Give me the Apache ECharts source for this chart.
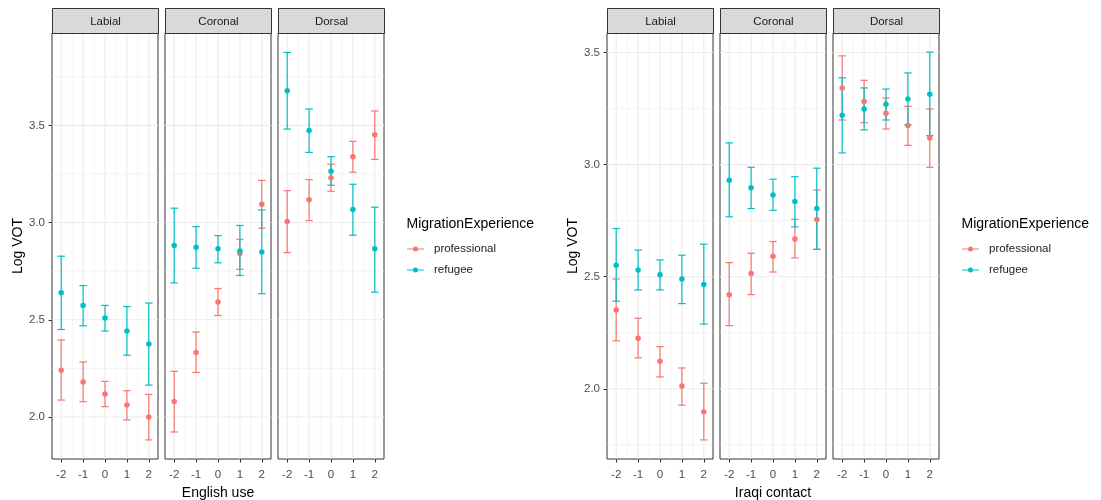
<!DOCTYPE html>
<html>
<head>
<meta charset="utf-8">
<script src="https://cdn.jsdelivr.net/npm/echarts@6/dist/echarts.min.js"></script>
<style>
  html, body { margin: 0; padding: 0; background: #ffffff; }
  #chart { width: 1101px; height: 500px; }
</style>
</head>
<body>
<div id="chart"></div>
<script>
// Facet labels, predictor levels and groups
const places = ['Labial', 'Coronal', 'Dorsal'];
const levels = [-2, -1, 0, 1, 2];
const groups = ['professional', 'refugee'];
const xTitles = ['English use', 'Iraqi contact'];
const legendTitle = 'MigrationExperience';
const yTitle = 'Log VOT';

// Axis ticks
const xMinorTicks = [-1.5, -0.5, 0.5, 1.5];
const yMajorTicks = [2.0, 2.5, 3.0, 3.5];
const yMinorTicksEnglish = [2.25, 2.75, 3.25, 3.75];
const yMinorTicksIraqi = [1.75, 2.25, 2.75, 3.25];

// Estimated Log VOT: [estimate, lower, upper] for levels -2..2
// English use
const engLabialProfessional = [[2.241, 2.087, 2.396], [2.180, 2.079, 2.283], [2.118, 2.053, 2.183], [2.062, 1.985, 2.135], [2.000, 1.882, 2.116]];
const engLabialRefugee      = [[2.639, 2.450, 2.827], [2.574, 2.469, 2.676], [2.509, 2.442, 2.574], [2.442, 2.318, 2.568], [2.375, 2.164, 2.586]];
const engCoronalProfessional = [[2.080, 1.923, 2.235], [2.332, 2.229, 2.437], [2.591, 2.522, 2.661], [2.841, 2.760, 2.914], [3.094, 2.971, 3.217]];
const engCoronalRefugee      = [[2.882, 2.690, 3.074], [2.873, 2.765, 2.979], [2.865, 2.793, 2.933], [2.854, 2.728, 2.985], [2.849, 2.634, 3.065]];
const engDorsalProfessional = [[3.005, 2.846, 3.164], [3.118, 3.010, 3.221], [3.231, 3.161, 3.300], [3.339, 3.259, 3.418], [3.452, 3.325, 3.574]];
const engDorsalRefugee      = [[3.678, 3.481, 3.875], [3.474, 3.361, 3.584], [3.264, 3.192, 3.339], [3.067, 2.935, 3.197], [2.865, 2.642, 3.079]];
// Iraqi contact
const iraLabialProfessional = [[2.352, 2.214, 2.490], [2.226, 2.138, 2.315], [2.123, 2.053, 2.188], [2.013, 1.927, 2.093], [1.898, 1.772, 2.025]];
const iraLabialRefugee      = [[2.551, 2.391, 2.715], [2.530, 2.441, 2.619], [2.509, 2.441, 2.575], [2.490, 2.380, 2.596], [2.465, 2.289, 2.645]];
const iraCoronalProfessional = [[2.420, 2.282, 2.563], [2.514, 2.420, 2.605], [2.591, 2.521, 2.657], [2.668, 2.584, 2.756], [2.755, 2.622, 2.886]];
const iraCoronalRefugee      = [[2.930, 2.767, 3.097], [2.897, 2.804, 2.988], [2.865, 2.796, 2.935], [2.836, 2.722, 2.946], [2.804, 2.622, 2.984]];
const iraDorsalProfessional = [[3.342, 3.199, 3.485], [3.281, 3.187, 3.376], [3.229, 3.159, 3.297], [3.174, 3.086, 3.260], [3.119, 2.988, 3.248]];
const iraDorsalRefugee      = [[3.220, 3.052, 3.387], [3.248, 3.155, 3.342], [3.269, 3.199, 3.337], [3.293, 3.177, 3.409], [3.314, 3.129, 3.502]];

const plotData = [
  [[engLabialProfessional, engLabialRefugee], [engCoronalProfessional, engCoronalRefugee], [engDorsalProfessional, engDorsalRefugee]],
  [[iraLabialProfessional, iraLabialRefugee], [iraCoronalProfessional, iraCoronalRefugee], [iraDorsalProfessional, iraDorsalRefugee]]
];

// Layout and style
const FONT = '"Liberation Sans", Arial, sans-serif';
const COLORS = ['#F8766D', '#00BFC4'];
const PANEL_W = 106, PANEL_TOP = 33, PANEL_H = 426;
const STRIP_TOP = 8, STRIP_H = 25;
const panelLefts = [[52, 165, 278], [607, 720, 833]];
const yRanges = [[1.784, 3.975], [1.687, 3.587]];
const xRange = [-2.42, 2.42];
const yMinorSets = [yMinorTicksEnglish, yMinorTicksIraqi];
const legendLefts = [407, 962];
const CAP_HALF = 0.17;

const grids = [], xAxes = [], yAxes = [], series = [], graphics = [], titles = [], legends = [];

function gridLineSeries(gi, plot) {
  // background reference lines: [value, isHorizontal, isMinor]
  const data = [];
  yMinorSets[plot].forEach(v => data.push([v, 1, 1]));
  yMajorTicks.forEach(v => data.push([v, 1, 0]));
  xMinorTicks.forEach(v => data.push([v, 0, 1]));
  levels.forEach(v => data.push([v, 0, 0]));
  return {
    type: 'custom', xAxisIndex: gi, yAxisIndex: gi, silent: true, z: 1,
    clip: true, animation: false,
    data: data,
    renderItem: function (params, api) {
      const cs = params.coordSys;
      const v = api.value(0), horiz = api.value(1), minor = api.value(2);
      const style = { stroke: '#EBEBEB', lineWidth: minor ? 0.55 : 1.1 };
      if (horiz) {
        const y = api.coord([0, v])[1];
        if (y < cs.y || y > cs.y + cs.height) return null;
        return { type: 'line', shape: { x1: cs.x, y1: y, x2: cs.x + cs.width, y2: y }, style: style };
      }
      const x = api.coord([v, yRanges[plot][0]])[0];
      return { type: 'line', shape: { x1: x, y1: cs.y, x2: x, y2: cs.y + cs.height }, style: style };
    }
  };
}

function errorBarSeries(gi, rows, color) {
  return {
    type: 'custom', xAxisIndex: gi, yAxisIndex: gi, z: 3, silent: true,
    animation: false,
    itemStyle: { color: color },
    data: rows.map((r, i) => [levels[i], r[1], r[2]]),
    encode: { x: 0, y: [1, 2] },
    renderItem: function (params, api) {
      const x = api.value(0), lo = api.value(1), hi = api.value(2);
      const top = api.coord([x, hi]);
      const bot = api.coord([x, lo]);
      const l = api.coord([x - CAP_HALF, hi])[0];
      const r = api.coord([x + CAP_HALF, hi])[0];
      const style = { stroke: color, lineWidth: 1.2 };
      return {
        type: 'group',
        children: [
          { type: 'line', shape: { x1: top[0], y1: top[1], x2: bot[0], y2: bot[1] }, style: style },
          { type: 'line', shape: { x1: l, y1: top[1], x2: r, y2: top[1] }, style: style },
          { type: 'line', shape: { x1: l, y1: bot[1], x2: r, y2: bot[1] }, style: style }
        ]
      };
    }
  };
}

for (let p = 0; p < 2; p++) {
  for (let f = 0; f < 3; f++) {
    const gi = p * 3 + f;
    const left = panelLefts[p][f];
    grids.push({
      left: left, top: PANEL_TOP, width: PANEL_W, height: PANEL_H,
      outerBoundsMode: 'none', containLabel: false,
      show: true, backgroundColor: '#ffffff', borderColor: '#333333', borderWidth: 1
    });
    xAxes.push({
      gridIndex: gi, type: 'value', min: xRange[0], max: xRange[1],
      axisLine: { show: false, onZero: false },
      axisTick: { show: true, length: 3.5, lineStyle: { color: '#333333', width: 1 }, customValues: levels },
      axisLabel: { customValues: levels, color: '#4D4D4D', fontSize: 11.5, fontFamily: FONT, margin: 10 },
      splitLine: { show: false },
      name: f === 1 ? xTitles[p] : '',
      nameLocation: 'middle', nameGap: 27,
      nameTextStyle: { color: '#000000', fontSize: 14, fontFamily: FONT }
    });
    yAxes.push({
      gridIndex: gi, type: 'value', min: yRanges[p][0], max: yRanges[p][1],
      axisLine: { show: false, onZero: false },
      axisTick: { show: f === 0, length: 3.5, lineStyle: { color: '#333333', width: 1 }, customValues: yMajorTicks },
      axisLabel: {
        show: f === 0, customValues: yMajorTicks, color: '#4D4D4D', fontSize: 11.5, fontFamily: FONT, margin: 7,
        formatter: v => Number(v).toFixed(1)
      },
      splitLine: { show: false },
      name: f === 0 ? yTitle : '',
      nameLocation: 'middle', nameRotate: 90, nameGap: 27,
      nameTextStyle: { color: '#000000', fontSize: 14, fontFamily: FONT }
    });

    series.push(gridLineSeries(gi, p));
    for (let g = 0; g < 2; g++) {
      series.push(errorBarSeries(gi, plotData[p][f][g], COLORS[g]));
    }
    for (let g = 0; g < 2; g++) {
      const rows = plotData[p][f][g];
      series.push({
        type: 'scatter', name: groups[g], xAxisIndex: gi, yAxisIndex: gi, z: 4,
        symbol: 'circle', symbolSize: 5.5, animation: false,
        itemStyle: { color: COLORS[g], opacity: 1 },
        emphasis: { disabled: true },
        data: rows.map((r, i) => [levels[i], r[0]])
      });
    }

    // facet strip
    graphics.push({
      type: 'rect', silent: true, z: 10,
      shape: { x: left + 0.5, y: STRIP_TOP + 0.5, width: PANEL_W, height: STRIP_H },
      style: { fill: '#D9D9D9', stroke: '#333333', lineWidth: 1 }
    });
    graphics.push({
      type: 'text', silent: true, z: 11,
      x: left + PANEL_W / 2 + 0.5, y: STRIP_TOP + STRIP_H / 2 + 1.5,
      style: { text: places[f], fontSize: 11.5, fontFamily: FONT, fill: '#1A1A1A', align: 'center', verticalAlign: 'middle' }
    });
  }

  titles.push({
    text: legendTitle, left: legendLefts[p] - 0.5, top: 217, padding: 0,
    textStyle: { fontSize: 14, fontWeight: 'normal', color: '#000000', fontFamily: FONT }
  });
  legends.push({
    orient: 'vertical', left: legendLefts[p], top: 243, padding: 0,
    itemWidth: 17, itemHeight: 5, itemGap: 9,
    icon: 'path://M0,2H17V3H0Z M6,2.5A2.5,2.5 0 1 1 11,2.5A2.5,2.5 0 1 1 6,2.5Z',
    data: groups,
    selectedMode: false,
    textStyle: { fontSize: 11.5, fontFamily: FONT, color: '#1A1A1A', padding: [0, 0, 0, 5] }
  });
}

const chart = echarts.init(document.getElementById('chart'), null, { renderer: 'canvas' });
chart.setOption({
  animation: false,
  backgroundColor: '#ffffff',
  textStyle: { fontFamily: FONT },
  title: titles,
  legend: legends,
  grid: grids,
  xAxis: xAxes,
  yAxis: yAxes,
  series: series,
  graphic: { elements: graphics }
});
</script>
</body>
</html>
